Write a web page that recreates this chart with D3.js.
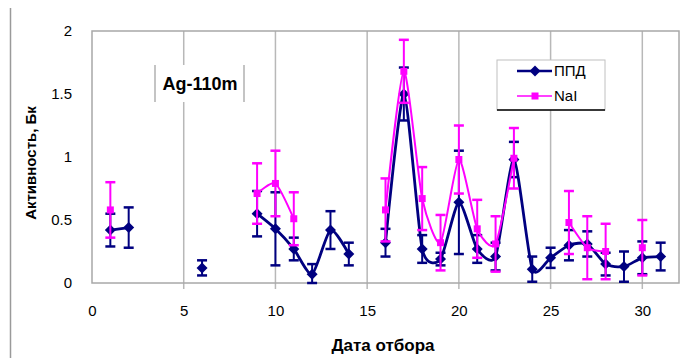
<!DOCTYPE html>
<html lang="ru">
<head>
<meta charset="utf-8">
<title>Ag-110m</title>
<script src="https://cdn.jsdelivr.net/npm/d3@7"></script>
<style>
  body { margin: 0; background: #fff; }
  svg text { font-family: "Liberation Sans", Arial, sans-serif; fill: #000; }
  .tick text { font-size: 15px; }
  .title { font-weight: bold; }
</style>
</head>
<body>
<script>
// sampling day
const days = [1, 2, 6, 9, 10, 11, 12, 13, 14, 16, 17, 18, 19, 20, 21, 22, 23, 24, 25, 26, 27, 28, 29, 30, 31];

// ППД activity and error, null = no measurement
const ppd    = [0.42, 0.44, 0.12, 0.55, 0.43, 0.27, 0.07, 0.42, 0.23, 0.32, 1.50, 0.27, 0.19, 0.64, 0.27, 0.21, 0.98, 0.11, 0.20, 0.30, 0.31, 0.15, 0.13, 0.20, 0.21];
const ppdErr = [0.13, 0.16, 0.06, 0.18, 0.29, 0.09, 0.08, 0.15, 0.09, 0.11, 0.21, 0.11, 0.05, 0.41, 0.11, 0.11, 0.14, 0.10, 0.08, 0.12, 0.10, 0.09, 0.12, 0.13, 0.11];

// NaI activity and error
const nai    = [0.58, null, null, 0.71, 0.79, 0.51, null, null, null, 0.58, 1.68, 0.67, 0.32, 0.98, 0.43, 0.31, 0.99, null, null, 0.48, 0.28, 0.25, null, 0.28, null];
const naiErr = [0.22, null, null, 0.24, 0.26, 0.21, null, null, null, 0.25, 0.25, 0.25, 0.22, 0.27, 0.23, 0.22, 0.24, null, null, 0.25, 0.25, 0.22, null, 0.22, null];

const xTicks = [0, 5, 10, 15, 20, 25, 30];
const yTicks = [0, 0.5, 1, 1.5, 2];

const width = 697, height = 358;
const margin = {left: 92, top: 31, right: 18, bottom: 75};

const svg = d3.select("body").append("svg")
  .attr("width", width)
  .attr("height", height);

const x = d3.scaleLinear().domain([0, 32]).range([margin.left, width - margin.right]);
const y = d3.scaleLinear().domain([0, 2]).range([height - margin.bottom, margin.top]);

// outer chart frame (only left edge visible)
svg.append("line")
  .attr("x1", 10.5).attr("x2", 10.5)
  .attr("y1", 8).attr("y2", height)
  .attr("stroke", "#9a9a9a").attr("stroke-width", 1.5);

// vertical gridlines + small tick marks below
svg.append("g")
  .selectAll("line")
  .data(xTicks.filter(d => d > 0))
  .join("line")
  .attr("x1", d => x(d)).attr("x2", d => x(d))
  .attr("y1", y(2)).attr("y2", y(0) + 6)
  .attr("stroke", "#b8b8b8").attr("stroke-width", 1.5);

// plot area border
svg.append("rect")
  .attr("x", x(0)).attr("y", y(2))
  .attr("width", x(32) - x(0)).attr("height", y(0) - y(2))
  .attr("fill", "none").attr("stroke", "#a8a8a8").attr("stroke-width", 1.5);

// x axis
const xAxis = svg.append("g")
  .attr("transform", "translate(0," + y(0) + ")")
  .call(d3.axisBottom(x).tickValues(xTicks).tickSize(0).tickPadding(22));
xAxis.select(".domain").remove();

// y axis
const yAxis = svg.append("g")
  .attr("transform", "translate(" + x(0) + ",0)")
  .call(d3.axisLeft(y).tickValues(yTicks).tickSize(0).tickPadding(20)
    .tickFormat(d3.format("")));
yAxis.select(".domain").remove();

// axis titles
svg.append("text")
  .attr("class", "title")
  .attr("x", 383).attr("y", 351)
  .attr("text-anchor", "middle")
  .style("font-size", "17px")
  .text("Дата отбора");

svg.append("text")
  .attr("class", "title")
  .attr("transform", "translate(36,163) rotate(-90)")
  .attr("text-anchor", "middle")
  .style("font-size", "15px")
  .text("Активность, Бк");

// label box
svg.append("rect")
  .attr("x", 155).attr("y", 65).attr("width", 89).attr("height", 37)
  .attr("fill", "#fff");
svg.selectAll(".lbl-edge")
  .data([155, 244])
  .join("line")
  .attr("x1", d => d).attr("x2", d => d)
  .attr("y1", 65).attr("y2", 102)
  .attr("stroke", "#b0b0b0").attr("stroke-width", 1.5);
svg.append("text")
  .attr("x", 200).attr("y", 90)
  .attr("text-anchor", "middle")
  .style("font-size", "18px").style("font-weight", "bold")
  .text("Ag-110m");

// build series with gap handling
function makeSeries(vals, errs) {
  return days.map((d, i) => ({x: d, v: vals[i], e: errs[i]}));
}
const seriesPPD = makeSeries(ppd, ppdErr);
const seriesNaI = makeSeries(nai, naiErr);

const line = d3.line()
  .x(d => x(d.x))
  .y(d => y(d.v))
  .curve(d3.curveCardinal.tension(0.35));

// consecutive days only are joined
function segments(s) {
  const out = [];
  let cur = [];
  s.forEach(p => {
    if (p.v == null) { if (cur.length) out.push(cur); cur = []; return; }
    if (cur.length && p.x - cur[cur.length - 1].x > 1) { out.push(cur); cur = []; }
    cur.push(p);
  });
  if (cur.length) out.push(cur);
  return out;
}

function drawSeries(s, color, lw, marker) {
  const g = svg.append("g");
  const pts = s.filter(p => p.v != null);

  // error bars
  const eb = g.selectAll(".eb").data(pts).join("g");
  eb.append("line")
    .attr("x1", p => x(p.x)).attr("x2", p => x(p.x))
    .attr("y1", p => y(p.v + p.e)).attr("y2", p => y(Math.max(0, p.v - p.e)))
    .attr("stroke", color).attr("stroke-width", 2);
  eb.selectAll(".cap")
    .data(p => [p.v + p.e, Math.max(0, p.v - p.e)].map(v => ({x: p.x, v})))
    .join("line")
    .attr("x1", c => x(c.x) - 5).attr("x2", c => x(c.x) + 5)
    .attr("y1", c => y(c.v)).attr("y2", c => y(c.v))
    .attr("stroke", color).attr("stroke-width", 2.5);

  // smoothed lines
  g.selectAll(".seg")
    .data(segments(s).filter(sg => sg.length > 1))
    .join("path")
    .attr("d", line)
    .attr("fill", "none")
    .attr("stroke", color)
    .attr("stroke-width", lw);

  // markers
  g.selectAll(".mk")
    .data(pts)
    .join("path")
    .attr("transform", p => "translate(" + x(p.x) + "," + y(p.v) + ")")
    .attr("d", marker)
    .attr("fill", color);
}

const diamond = "M0,-5.5L5.5,0L0,5.5L-5.5,0Z";
const square = "M-3.5,-3.5H3.5V3.5H-3.5Z";

drawSeries(seriesPPD, "#000080", 2.8, diamond);
drawSeries(seriesNaI, "#ff00ff", 2, square);

// legend
const lg = svg.append("g");
lg.append("rect")
  .attr("x", 497).attr("y", 60).attr("width", 108).attr("height", 50)
  .attr("fill", "#fff").attr("stroke", "#c0c0c0");
lg.append("line")
  .attr("x1", 497).attr("x2", 605).attr("y1", 110).attr("y2", 110)
  .attr("stroke", "#000").attr("stroke-width", 1.5);

const legendItems = [
  {name: "ППД", color: "#000080", marker: diamond, lw: 2.5, yy: 71},
  {name: "NaI", color: "#ff00ff", marker: square, lw: 1.5, yy: 96}
];
legendItems.forEach(it => {
  lg.append("line")
    .attr("x1", 517).attr("x2", 552).attr("y1", it.yy).attr("y2", it.yy)
    .attr("stroke", it.color).attr("stroke-width", it.lw);
  lg.append("path")
    .attr("transform", "translate(535," + it.yy + ")")
    .attr("d", it.marker)
    .attr("fill", it.color);
  lg.append("text")
    .attr("x", 554).attr("y", it.yy + 5)
    .style("font-size", "15px")
    .text(it.name);
});
</script>
</body>
</html>
